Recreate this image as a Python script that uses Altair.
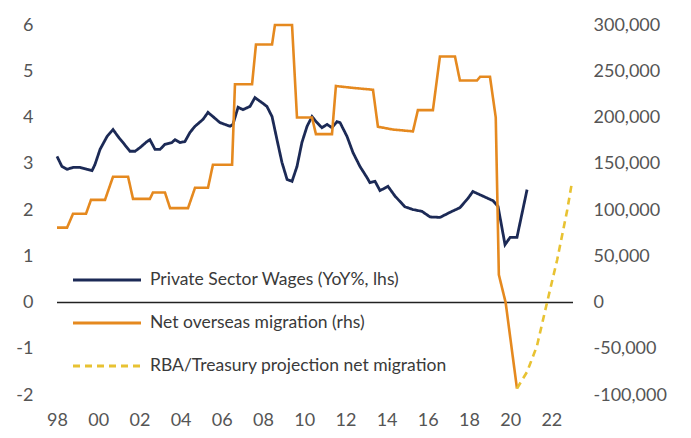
import altair as alt
import pandas as pd

# Private sector wages, YoY % (left axis)
wage_years = [1998.00, 1998.24, 1998.49, 1998.78, 1999.12, 1999.46, 1999.70, 1999.84,
              2000.09, 2000.43, 2000.72, 2000.96, 2001.20, 2001.54, 2001.79, 2002.03,
              2002.37, 2002.51, 2002.76, 2003.00, 2003.24, 2003.58, 2003.73, 2003.97,
              2004.21, 2004.46, 2004.70, 2005.09, 2005.33, 2005.57, 2005.91, 2006.40,
              2006.54, 2006.79, 2007.03, 2007.37, 2007.61, 2007.95, 2008.19, 2008.44,
              2008.68, 2008.92, 2009.17, 2009.41, 2009.65, 2009.89, 2010.14, 2010.38,
              2010.62, 2010.86, 2011.11, 2011.35, 2011.59, 2011.74, 2012.08, 2012.37,
              2012.71, 2013.05, 2013.19, 2013.44, 2013.68, 2014.07, 2014.41, 2014.89,
              2015.28, 2015.72, 2016.11, 2016.59, 2017.08, 2017.56, 2017.95, 2018.19,
              2018.68, 2019.17, 2019.41, 2019.75, 2020.00, 2020.33, 2020.82]
wage_values = [3.16, 2.94, 2.88, 2.92, 2.92, 2.88, 2.85, 2.98,
               3.31, 3.59, 3.74, 3.59, 3.46, 3.27, 3.27, 3.35,
               3.48, 3.52, 3.31, 3.31, 3.42, 3.46, 3.52, 3.46,
               3.48, 3.68, 3.81, 3.96, 4.11, 4.02, 3.89, 3.81,
               3.85, 4.22, 4.17, 4.24, 4.43, 4.32, 4.24, 4.02,
               3.52, 3.03, 2.66, 2.62, 2.94, 3.46, 3.81, 4.02,
               3.89, 3.78, 3.85, 3.78, 3.91, 3.89, 3.59, 3.24,
               2.94, 2.70, 2.59, 2.62, 2.42, 2.51, 2.30, 2.07,
               2.01, 1.97, 1.85, 1.84, 1.95, 2.05, 2.25, 2.40,
               2.30, 2.20, 2.08, 1.25, 1.41, 1.41, 2.44]

# Net overseas migration, persons (right axis)
nom_years = [1998.00, 1998.49, 1998.78, 1999.41, 1999.65, 2000.33, 2000.72, 2001.45,
             2001.69, 2002.51, 2002.66, 2003.24, 2003.49, 2004.36, 2004.70, 2005.33,
             2005.57, 2006.50, 2006.64, 2007.47, 2007.66, 2008.44, 2008.58, 2009.41,
             2009.65, 2010.38, 2010.57, 2011.35, 2011.54, 2012.37, 2013.34, 2013.58,
             2014.31, 2015.28, 2015.52, 2016.25, 2016.59, 2017.32, 2017.56, 2018.39,
             2018.54, 2019.02, 2019.30, 2019.45, 2019.78, 2020.33]
nom_values = [81000, 81000, 96000, 96000, 111000, 111000, 136000, 136000,
              112000, 112000, 119000, 119000, 102000, 102000, 124000, 124000,
              149000, 149000, 236000, 236000, 279000, 279000, 300000, 300000,
              200000, 200000, 182000, 182000, 234000, 232000, 230000, 190000,
              187000, 185000, 208000, 208000, 266000, 266000, 240000, 240000,
              244000, 244000, 200000, 30000, 0, -93000]

# RBA/Treasury projection (right axis)
proj_years = [2020.33, 2020.82, 2021.30, 2021.79, 2022.28, 2022.77, 2023.00]
proj_values = [-93000, -75000, -47000, 0, 46000, 100000, 130000]

x_ticks = [1998, 2000, 2002, 2004, 2006, 2008, 2010, 2012, 2014, 2016, 2018, 2020, 2022]
left_ticks = [-2, -1, 0, 1, 2, 3, 4, 5, 6]
right_ticks = [-100000, -50000, 0, 50000, 100000, 150000, 200000, 250000, 300000]

S_WAGE = "Private Sector Wages (YoY%, lhs)"
S_NOM = "Net overseas migration (rhs)"
S_PROJ = "RBA/Treasury projection net migration"
series_names = [S_WAGE, S_NOM, S_PROJ]
series_colors = ["#1c2a56", "#e5891f", "#e8c232"]
series_dash = [[1, 0], [1, 0], [7, 5]]

wages = pd.DataFrame({"year": wage_years, "value": wage_values, "series": S_WAGE})
mig = pd.concat([
    pd.DataFrame({"year": nom_years, "value": nom_values, "series": S_NOM}),
    pd.DataFrame({"year": proj_years, "value": proj_values, "series": S_PROJ}),
])
zero = pd.DataFrame({"value": [0]})

FONT = "Lato"
x_scale = alt.Scale(domain=[1998, 2023.05], nice=False, zero=False)
x_enc = alt.X("year:Q", scale=x_scale,
              axis=alt.Axis(values=x_ticks, labelExpr="format(datum.value % 100, '02d')",
                            title=None, labelPadding=16, labelFlush=False))

legend_kw = dict(title=None, orient="none", legendX=40, legendY=245,
                 symbolType="M-4,0L4,0", symbolSize=289,
                 symbolStrokeWidth=3, labelOffset=33,
                 labelFontSize=17.5, labelFont=FONT, labelColor="#3a3a3a",
                 rowPadding=24, padding=0, labelLimit=400)
color = alt.Color("series:N", scale=alt.Scale(domain=series_names, range=series_colors),
                  legend=alt.Legend(**legend_kw))
dash = alt.StrokeDash("series:N", scale=alt.Scale(domain=series_names, range=series_dash),
                      legend=alt.Legend(**legend_kw))

left_scale = alt.Scale(domain=[-2, 6], nice=False)
right_scale = alt.Scale(domain=[-100000, 300000], nice=False)
left_axis = alt.Axis(values=left_ticks, orient="left", title=None, labelPadding=24,
                     labelFlush=False,
                     labelExpr="(datum.value < 0 ? '-' : '') + format(abs(datum.value), 'd')")
right_axis = alt.Axis(values=right_ticks, orient="right", title=None, labelPadding=20,
                      labelFlush=False,
                      labelExpr="(datum.value < 0 ? '-' : '') + format(abs(datum.value), ',d')")

rule = alt.Chart(zero).mark_rule(color="#222", strokeWidth=1.5).encode(
    y=alt.Y("value:Q", scale=left_scale, axis=left_axis))

blue = alt.Chart(wages).mark_line(strokeWidth=2.8).encode(
    x=x_enc,
    y=alt.Y("value:Q", scale=left_scale, axis=left_axis),
    color=color, strokeDash=dash)

orange = alt.Chart(mig).mark_line(strokeWidth=2.6).encode(
    x=x_enc,
    y=alt.Y("value:Q", scale=right_scale, axis=right_axis),
    color=color, strokeDash=dash)

left = alt.layer(rule, blue)
chart = alt.layer(left, orange).resolve_scale(y="independent").properties(
    width=516, height=370,
    background="white",
    autosize=alt.AutoSizeParams(type="none"),
    padding={"left": 49, "top": 17, "right": 110, "bottom": 35},
).configure_view(stroke=None).configure_axis(
    domain=False, ticks=False, grid=False, labelFont=FONT, labelFontSize=18,
    labelColor="#555"
)

chart.save("out.html", embed_options={"renderer": "svg", "actions": False})
